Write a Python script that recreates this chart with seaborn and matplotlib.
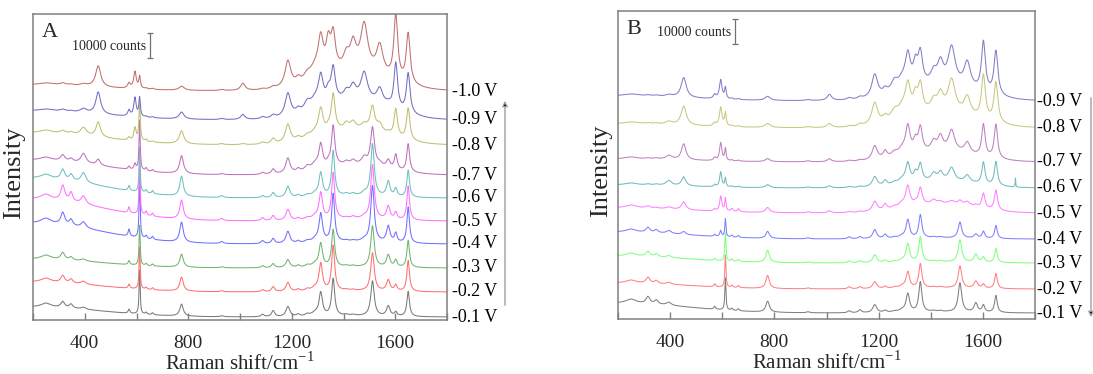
import numpy as np
import pandas as pd
import matplotlib
matplotlib.use("Agg")
import matplotlib.pyplot as plt
import seaborn as sns
from matplotlib.ticker import MultipleLocator

sns.set_theme(style="white")
plt.rcParams["font.family"] = ["Liberation Serif", "DejaVu Serif"]
plt.rcParams["mathtext.fontset"] = "custom"
plt.rcParams["mathtext.rm"] = "Liberation Serif"

# ---------------- data (intensity unit: 1 unit = 400 counts) ----------------
COUNTS_PER_UNIT = 400
SCALE_BAR_COUNTS = 10000

# Raman band positions (cm-1) and base widths (FWHM, cm-1)
PEAK_POS = [250, 315, 347, 395, 452, 571, 594, 612, 637, 662, 774, 929, 1011, 1087, 1128,
            1185, 1225, 1260, 1290, 1312, 1341, 1360, 1411, 1437, 1480, 1512, 1540, 1573,
            1602, 1650, 1725]
PEAK_FWHM = [45, 18, 16, 22, 16, 8, 8, 5, 8, 8, 16, 14, 14, 14, 14,
             18, 14, 20, 30, 16, 14, 14, 18, 18, 22, 16, 20, 16,
             12, 12, 2]

# broad backgrounds (low-wavenumber and 1250-1600 region)
LOW_BG_CENTER, LOW_BG_SIGMA = 200, 260
MID_BG_CENTER, MID_BG_SIGMA = 1440, 130

# ---- panel A ----
LABELS_A = ["-0.1 V", "-0.2 V", "-0.3 V", "-0.4 V", "-0.5 V",
            "-0.6 V", "-0.7 V", "-0.8 V", "-0.9 V", "-1.0 V"]
A_m01 = [4, 6, 4, 2, 0, 4, 0, 44, 2, 2, 12, 1, 0, 2.5, 6, 10, 2, 2, 3, 23, 0, 37, 1, 1, 0, 35, 0, 10, 4, 25, 0]
A_m02 = [4, 7, 4, 3, 0, 4, 0, 42, 2, 2, 14, 1, 0, 2, 5, 9, 2, 2, 3, 27, 0, 45, 1, 1, 0, 38, 0, 11, 6, 31, 0]
A_m03 = [4, 7, 3, 2, 0, 4, 0, 40, 2, 2, 13, 1, 0, 2, 4, 8, 2, 2, 3, 23, 0, 37, 1, 1, 0, 41, 0, 12, 7, 27, 0]
A_m04 = [5, 12, 6, 6, 0, 7, 0, 60, 3, 3, 20, 2, 0, 3, 5, 12, 2, 2, 3, 28, 0, 48, 1, 1, 2, 56, 0, 16, 9, 36, 0]
A_m05 = [5, 15, 9, 8, 0, 6, 0, 55, 4, 3, 19, 2, 0, 3, 5, 11, 2, 2, 3, 26, 0, 46, 1, 2, 2, 54, 0, 13, 7, 34, 0]
A_m06 = [4, 10, 6, 10, 0, 5, 0, 45, 3, 3, 20, 2, 0, 2, 5, 11, 2, 2, 3, 23, 0, 45, 2, 2, 3, 52, 0, 15, 8, 27, 0]
A_m07 = [3, 6, 3, 10, 6, 3, 6, 50, 3, 2, 18, 1, 0, 2, 5, 15, 3, 4, 5, 23, 3, 40, 3, 4, 7, 38, 3, 8, 15, 28, 0]
A_m08 = [3, 3, 2, 8, 15, 3, 13, 37, 2, 1, 13, 1, 1, 2, 5, 18, 3, 3, 4, 25, 3, 37, 6, 7, 5, 24, 8, 2, 28, 32, 0]
A_m09 = [2, 2, 1, 4, 22, 6, 19, 19, 1, 1, 7, 1, 5, 2, 3, 23, 4, 8, 8, 28, 10, 33, 7, 12, 27, 0, 15, 2, 46, 40, 0]
A_m10 = [2, 2, 1, 2, 21, 5, 17, 12, 1, 1, 4, 1, 7, 1, 2, 26, 5, 6, 10, 35, 28, 35, 13, 24, 45, 0, 28, 0, 64, 50, 0]
HEIGHTS_A = [A_m01, A_m02, A_m03, A_m04, A_m05, A_m06, A_m07, A_m08, A_m09, A_m10]
OFFSET_A = [3, 28, 52, 76, 99, 122, 145, 175, 200, 229]
LOWBG_A = [10, 10, 9, 21, 22, 20, 15, 12, 9, 6]
MIDBG_A = [1, 1, 1, 2, 2, 2, 10, 15, 20, 20]
BROAD_A = [1, 1, 1, 1, 1, 1, 1.1, 1.3, 1.4, 1.5]
COLORS_A = ["#7a7a7a", "#ff7070", "#72b472", "#7070ff", "#ff70ff",
            "#70c0c0", "#c070c0", "#c0c070", "#7070c4", "#c07070"]

# ---- panel B ----
LABELS_B = ["-0.1 V", "-0.2 V", "-0.3 V", "-0.4 V", "-0.5 V",
            "-0.6 V", "-0.7 V", "-0.8 V", "-0.9 V"]
B_m01 = [4, 7, 4, 3, 0, 3, 0, 32, 2, 2, 11, 1, 0, 2, 3, 8, 2, 1, 2, 18, 0, 30, 1, 1, 0, 29, 0, 9, 7, 17, 0]
B_m02 = [3, 6, 3, 2, 0, 3, 0, 32, 2, 2, 13, 1, 0, 2, 2, 7, 2, 1, 2, 16, 0, 24, 1, 1, 0, 22, 0, 7, 4, 15, 0]
B_m03 = [3, 5, 3, 2, 0, 2, 0, 28, 2, 2, 12, 1, 0, 2, 2, 8, 2, 1, 2, 18, 0, 25, 1, 1, 0, 22, 0, 8, 5, 14, 0]
B_m04 = [3, 5, 3, 3, 3, 2, 6, 18, 2, 2, 7, 1, 0, 2, 2, 9, 4, 1, 2, 18, 0, 23, 1, 1, 0, 16, 0, 4, 7, 13, 0]
B_m05 = [3, 2, 1, 2, 8, 2, 15, 13, 3, 3, 5, 1, 2, 1, 1, 10, 6, 2, 4, 20, 2, 17, 4, 2, 3, 4, 4, 2, 15, 20, 0]
B_m06 = [2, 1, 1, 5, 9, 2, 15, 9, 1, 1, 3, 1, 2, 1, 1, 10, 5, 2, 4, 19, 8, 17, 7, 8, 13, 0, 7, 0, 22, 24, 9]
B_m07 = [2, 1, 1, 4, 16, 3, 18, 12, 1, 1, 3, 1, 3, 1, 1, 14, 7, 4, 6, 27, 11, 24, 9, 14, 21, 0, 11, 0, 32, 34, 0]
B_m08 = [2, 1, 1, 3, 19, 3, 19, 13, 1, 1, 4, 1, 4, 1, 2, 22, 5, 8, 10, 29, 16, 27, 10, 16, 32, 0, 18, 0, 44, 40, 0]
B_m09 = [2, 1, 1, 2, 20, 4, 19, 11, 1, 1, 4, 1, 6, 2, 2, 23, 5, 10, 10, 31, 20, 31, 11, 20, 37, 0, 25, 0, 50, 44, 0]
HEIGHTS_B = [B_m01, B_m02, B_m03, B_m04, B_m05, B_m06, B_m07, B_m08, B_m09]
OFFSET_B = [6, 30, 56, 80, 106, 131, 157, 191, 218]
LOWBG_B = [10, 6, 7, 7, 5, 3, 3, 4, 5]
MIDBG_B = [1, 1, 1, 1, 9, 7, 10, 15, 15]
BROAD_B = [1, 1, 1, 1, 1.2, 1.2, 1.3, 1.5, 1.5]
COLORS_B = ["#808080", "#ff8080", "#80ff80", "#8080ff", "#ff80ff",
            "#74baba", "#c080c0", "#c8c880", "#8080c8"]

X_TICKS = [400, 800, 1200, 1600]
X_RANGE = (200, 1800)

# ---------------- build spectra ----------------
shift = np.arange(X_RANGE[0], X_RANGE[1] + 0.25, 0.5)


def spectrum(heights, offset, low_bg, mid_bg, broad):
    y = np.full_like(shift, float(offset))
    y += low_bg * np.exp(-0.5 * ((shift - LOW_BG_CENTER) / LOW_BG_SIGMA) ** 2)
    y += mid_bg * np.exp(-0.5 * ((shift - MID_BG_CENTER) / MID_BG_SIGMA) ** 2)
    for c, w, h in zip(PEAK_POS, PEAK_FWHM, heights):
        if h:
            hw = 0.5 * w * broad
            y += h / (1.0 + ((shift - c) / hw) ** 2)
    return y


fig = plt.figure(figsize=(10.93, 3.74), dpi=100)
axA = fig.add_axes([33 / 1093, 54 / 374, 414 / 1093, 306 / 374])
axB = fig.add_axes([618 / 1093, 55 / 374, 417 / 1093, 308 / 374])

panels = [
    (axA, "A", LABELS_A, HEIGHTS_A, OFFSET_A, LOWBG_A, MIDBG_A, BROAD_A, COLORS_A, 306, 652, 262, 3.5, -0.018),
    (axB, "B", LABELS_B, HEIGHTS_B, OFFSET_B, LOWBG_B, MIDBG_B, BROAD_B, COLORS_B, 308, 649, 275, 1.5, -0.014),
]

for (ax, letter, labels, heights, offsets, lowbg, midbg, broad, colors,
     ymax, bar_x, bar_y, lab_pad, ylab_x) in panels:
    for lab, h, off, lb, mb, br, col in zip(labels, heights, offsets, lowbg, midbg, broad, colors):
        df = pd.DataFrame({"shift": shift,
                           "intensity": spectrum(h, off, lb, mb, br)})
        sns.lineplot(data=df, x="shift", y="intensity", ax=ax, color=col,
                     lw=0.75, estimator=None, sort=False)
        ax.annotate(lab, xy=(1.0, off), xycoords=("axes fraction", "data"),
                    xytext=(lab_pad, 0), textcoords="offset points",
                    ha="left", va="center", fontsize=13, color="black",
                    annotation_clip=False)
    ax.set_xlim(*X_RANGE)
    ax.set_ylim(0, ymax)
    ax.xaxis.set_minor_locator(MultipleLocator(200))
    ax.set_xticks(X_TICKS)
    ax.set_yticks([])
    ax.tick_params(axis="x", which="both", direction="in", length=5, width=1,
                   color="#808080", labelsize=14, pad=11, bottom=True)
    for sp in ax.spines.values():
        sp.set_color("#808080")
        sp.set_linewidth(1.1)
    ax.set_xlabel(r"Raman shift/cm$^{\mathregular{-1}}$", fontsize=15)
    ax.xaxis.set_label_coords(0.5, -0.104)
    ax.set_ylabel("Intensity", fontsize=19)
    ax.yaxis.set_label_coords(ylab_x, 0.48)
    ax.text(0.021, 0.925, letter, transform=ax.transAxes, fontsize=16,
            ha="left", va="baseline")
    # scale bar: 10000 counts
    bar_len = SCALE_BAR_COUNTS / COUNTS_PER_UNIT
    ax.plot([bar_x, bar_x], [bar_y, bar_y + bar_len], color="#707070", lw=0.9,
            marker="_", ms=5, mew=0.9)
    ax.annotate("10000 counts", xy=(bar_x, bar_y + bar_len * 0.45),
                xytext=(-2.5, 0), textcoords="offset points",
                ha="right", va="center", fontsize=10)

# direction arrows
fig.patches.append(matplotlib.patches.FancyArrowPatch(
    (505 / 1093, 66 / 374), (505 / 1093, 276 / 374), transform=fig.transFigure,
    arrowstyle="-|>", mutation_scale=8, lw=1.0, ec="#a0a0a0", fc="black"))
fig.patches.append(matplotlib.patches.FancyArrowPatch(
    (1091 / 1093, 279 / 374), (1091 / 1093, 54 / 374), transform=fig.transFigure,
    arrowstyle="-|>", mutation_scale=8, lw=1.0, ec="#a0a0a0", fc="black"))

fig.savefig("out.png", dpi=100, facecolor="white")
